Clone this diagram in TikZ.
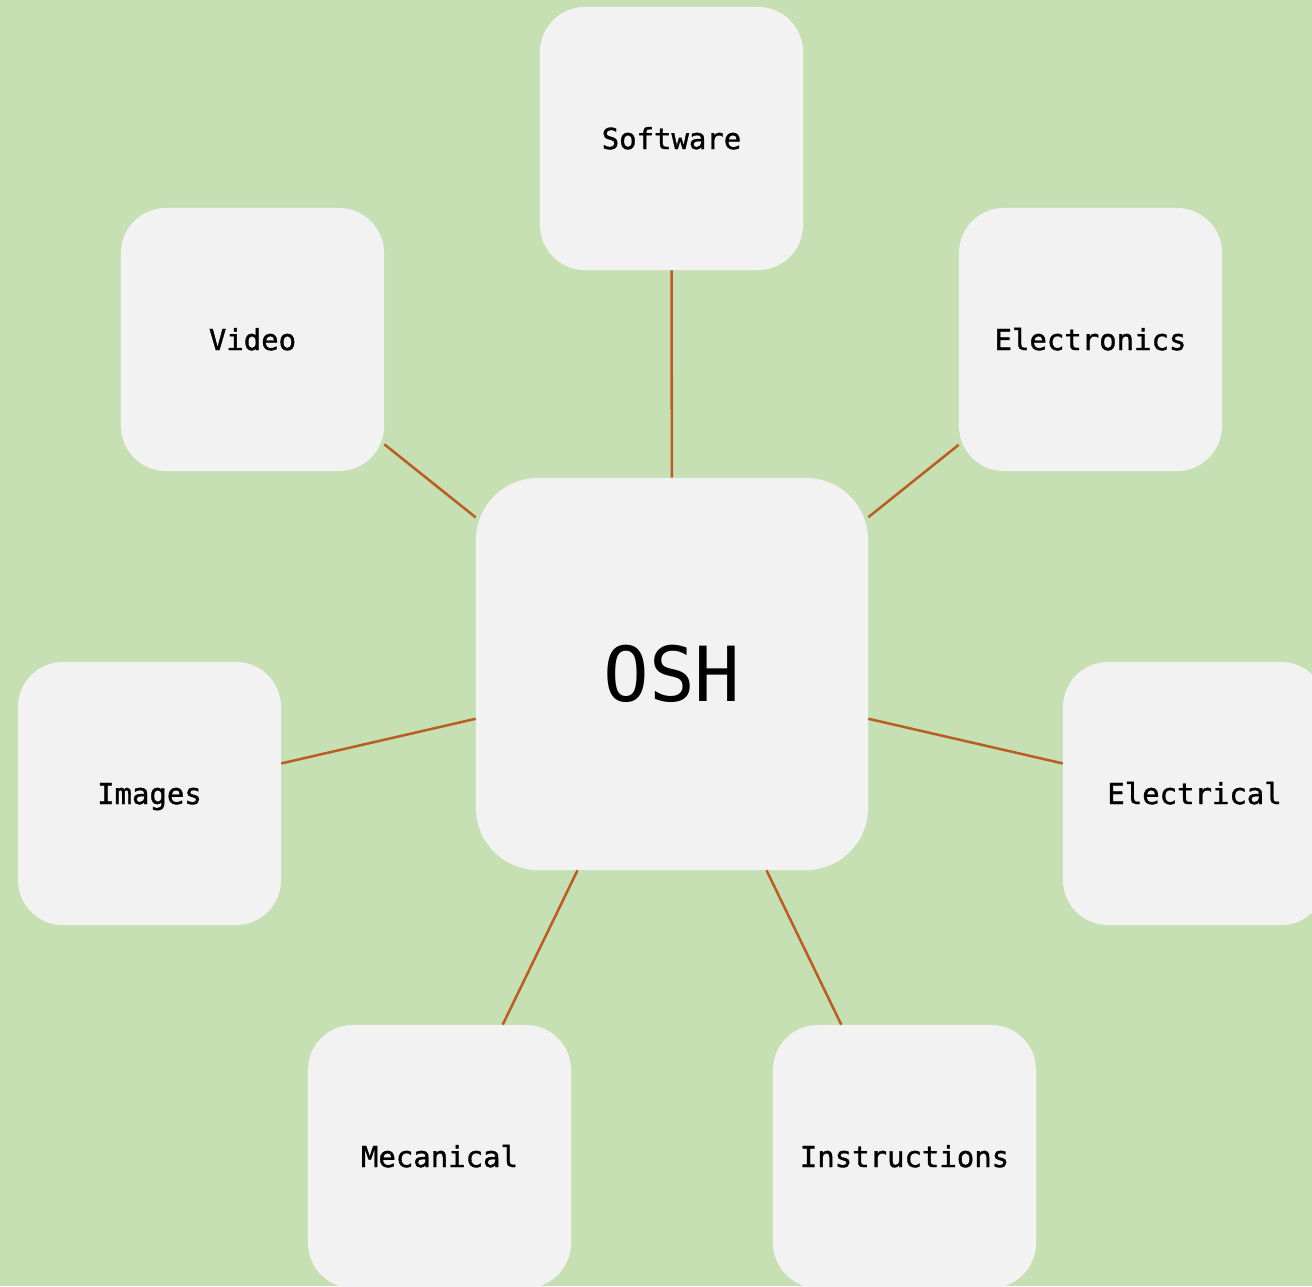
\documentclass[tikz,border=0pt]{standalone}
\usepackage{fontspec}
\setmonofont{DejaVu Sans Mono}
\newfontfamily\leaffont[FakeBold=1.2]{DejaVu Sans Mono}
\usepackage{tikz}
\usetikzlibrary{positioning}

\definecolor{leafgreen}{HTML}{C6E0B4}
\definecolor{boxgray}{HTML}{F2F2F2}
\definecolor{linkbrown}{HTML}{BA5F24}

\begin{document}
\begin{tikzpicture}[x=0.025cm,y=-0.025cm,
    leaf/.style={rectangle,fill=boxgray,rounded corners=1.125cm,inner sep=0pt,
      minimum width=6.575cm,minimum height=6.575cm,text height=15pt,text depth=0pt,
      font=\leaffont\fontsize{20.6}{24}\selectfont},
    hub/.style={rectangle,fill=boxgray,rounded corners=1.55cm,inner sep=0pt,
      minimum width=9.8cm,minimum height=9.8cm,text height=39.4pt,text depth=0pt,
      font=\ttfamily\fontsize{54}{60}\selectfont},
    link/.style={draw=linkbrown,line width=1.8pt}]
    \useasboundingbox (0,0) rectangle (1312,1286);
    \clip (0,0) rectangle (1312,1286);
    \fill[leafgreen] (0,0) rectangle (1312,1286);
    \node[hub] (osh) at (672,674) {OSH};
    \node[leaf] (software) at (671.5,138.5) {Software};
    \node[leaf] (video) at (252.5,339.5) {Video};
    \node[leaf] (electronics) at (1090.5,339.5) {Electronics};
    \node[leaf] (images) at (149.5,793.5) {Images};
    \node[leaf] (electrical) at (1194.5,793.5) {Electrical};
    \node[leaf] (mecanical) at (439.5,1156.5) {Mecanical};
    \node[leaf] (instructions) at (904.5,1156.5) {Instructions};
    \foreach \N in {software,video,electronics,images,electrical,mecanical,instructions}
    {\draw[link] (osh) -- (\N);}
  \end{tikzpicture}
\end{document}
